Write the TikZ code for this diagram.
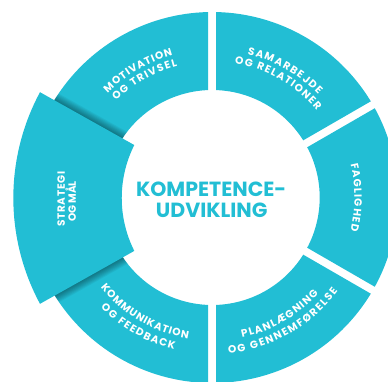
\documentclass[tikz,border=0pt]{standalone}
\usepackage{fontspec}
\setmainfont{Poppins}
\usetikzlibrary{decorations.text}
\definecolor{cy}{RGB}{34,190,212}
\newcommand\labfont{\fontsize{10.5}{12}\selectfont\bfseries}
\newcommand\ctrfont{\fontsize{20.5}{24}\selectfont\bfseries}
\newcommand\ringseg[2]{%
  (#1+1.235:185.5) arc[start angle=#1+1.235, end angle=#2-1.235, radius=185.5]
  -- (#2-2.13:107.5) arc[start angle=#2-2.13, end angle=#1+2.13, radius=107.5] -- cycle}
\newcommand\stratpath{(-172.2,105.3) arc[start angle=151.7, end angle=208.3, radius=223.2]
  -- (-77.9,-53.4) arc[start angle=206.7, end angle=153.3, radius=117.8] -- cycle}
\begin{document}
\begin{tikzpicture}[x=1pt,y=1pt,
  seg/.style={fill=cy},
  arclab/.style={decorate, decoration={text along path, text={|\labfont|#1}, text color=white, text align={fit to path}}},
  midlab/.style={decorate, decoration={text along path, text={|\labfont|#1}, text color=white, text align=center}},
  ctr/.style={text=cy, font=\ctrfont, inner sep=0pt, anchor=base}]
\useasboundingbox (-212.2,-183.5) rectangle (175.8,197.5);
% ring segments
\fill[seg] \ringseg{30}{90};
\fill[seg] \ringseg{-30}{30};
\fill[seg] \ringseg{-90}{-30};
\fill[seg] \ringseg{210}{270};
\fill[seg] \ringseg{90}{150};
% shadow cast by the raised segment
\begin{scope}
  \clip \ringseg{90}{150} \ringseg{210}{270};
  \foreach \w in {2,4,...,16} \draw[black, opacity=0.05, line width=\w pt, line join=round] \stratpath;
\end{scope}
% raised segment
\fill[seg] \stratpath;
% labels along the ring
\path[arclab=MOTIVATION] (135:147.7) arc[start angle=135, end angle=105.5, radius=147.7];
\path[arclab=OG TRIVSEL] (134.9:136.2) arc[start angle=134.9, end angle=104.8, radius=136.2];
\path[arclab=SAMARBEJDE] (76.2:147.7) arc[start angle=76.2, end angle=44, radius=147.7];
\path[arclab=OG RELATIONER] (80.5:136.2) arc[start angle=80.5, end angle=39.7, radius=136.2];
\path[arclab=FAGLIGHED] (13.6:142.3) arc[start angle=13.6, end angle=-13.6, radius=142.3];
\path[arclab=PLANLÆGNING] (282.1:143.3) arc[start angle=282.1, end angle=317.9, radius=143.3];
\path[arclab=OG GENNEMFØRELSE] (276:156.8) arc[start angle=276, end angle=323.2, radius=156.8];
\path[arclab=KOMMUNIKATION] (218.9:143.3) arc[start angle=218.9, end angle=260.3, radius=143.3];
\path[arclab=OG FEEDBACK] (224.7:156.8) arc[start angle=224.7, end angle=256, radius=156.8];
% labels on the raised segment
\coordinate (s1a) at (-147.2,-29.2);
\coordinate (s1b) at (-147.2,25.8);
\coordinate (s2a) at (-136.2,-30);
\coordinate (s2b) at (-136.2,22);
\path[arclab=STRATEGI] (s1a) -- (s1b);
\path[midlab=OG MÅL] (s2a) -- (s2b);
% centre
\node[ctr] (k1) at (-1,0.8) {KOMPETENCE-};
\node[ctr] (k2) at (-0.5,-20.2) {UDVIKLING};
\end{tikzpicture}
\end{document}
